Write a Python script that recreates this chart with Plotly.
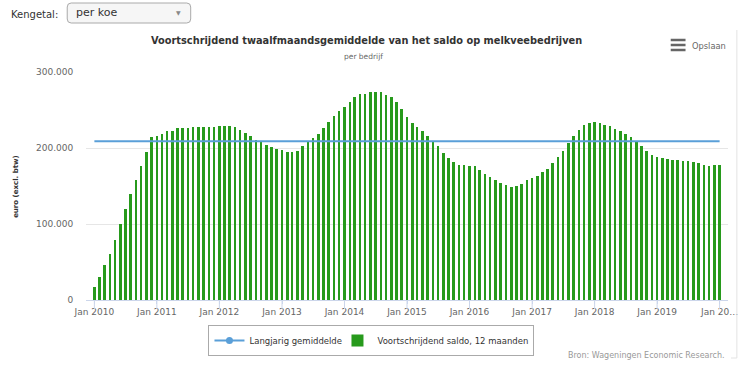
import plotly.graph_objects as go
import pandas as pd

# ---------------- data ----------------
MONTHS = pd.date_range("2010-01-01", periods=121, freq="MS")
SALDO_K = [
    16.7, 30.7, 45.7, 60.6, 79.0, 100.0, 120.0, 140.0, 158.0, 176.0, 194.6, 213.9,
    216.0, 218.7, 221.8, 223.0, 226.2, 226.2, 226.2, 227.0, 227.0, 227.0, 227.0, 227.0,
    228.4, 229.2, 228.4, 227.0, 223.5, 219.6, 215.2, 210.4, 207.7, 203.8, 200.7, 198.5,
    197.2, 195.4, 195.4, 196.3, 202.0, 208.2, 213.0, 218.7, 226.2, 234.0, 241.5, 248.6,
    253.8, 260.9, 267.5, 271.4, 271.4, 273.6, 273.6, 273.6, 270.1, 267.5, 260.9, 250.8,
    240.9, 232.8, 227.0, 221.8, 216.0, 208.6, 202.0, 193.2, 186.6, 181.4, 177.9, 177.9,
    176.5, 175.7, 171.3, 166.4, 161.2, 158.1, 153.3, 151.1, 148.9, 150.2, 152.4, 158.1,
    159.9, 163.4, 167.8, 172.6, 180.1, 188.0, 196.3, 206.9, 215.2, 224.0, 229.7, 232.8,
    234.1, 232.8, 230.6, 228.4, 224.9, 221.8, 218.7, 213.9, 208.6, 202.9, 196.3, 190.6,
    188.0, 186.6, 185.3, 184.0, 184.0, 183.1, 182.3, 181.4, 180.1, 177.4, 176.5, 177.4,
    177.4,
]
SALDO = [v * 1000 for v in SALDO_K]
LONG_TERM_AVG = 209000
TICK_DATES = [f"{y}-01-01" for y in range(2010, 2021)]
TICK_LABELS = ["Jan 2010", "Jan 2011", "Jan 2012", "Jan 2013", "Jan 2014", "Jan 2015",
               "Jan 2016", "Jan 2017", "Jan 2018", "Jan 2019", "Jan 20…"]
Y_TICKS = [0, 100000, 200000, 300000]
Y_LABELS = ["0", "100.000", "200.000", "300.000"]

FONT = "DejaVu Sans"
W, H = 750, 371
L, R, T, B = 86, 736, 72, 300


def px(x):
    return (x - L) / (R - L)


def py(y):
    return (B - y) / (B - T)


fig = go.Figure()

fig.add_trace(go.Bar(
    x=MONTHS, y=SALDO, name="Voortschrijdend saldo, 12 maanden",
    marker=dict(color="#279a1c", line=dict(width=0)),
    width=15 * 24 * 3600 * 1000,
))
fig.add_trace(go.Scatter(
    x=[MONTHS[0], MONTHS[-1]], y=[LONG_TERM_AVG, LONG_TERM_AVG],
    mode="lines", line=dict(color="#5a9fd8", width=2),
    showlegend=False, hoverinfo="skip",
))
fig.add_trace(go.Scatter(
    x=[None], y=[None], mode="lines+markers", name="Langjarig gemiddelde",
    line=dict(color="#5a9fd8", width=2), marker=dict(size=7, color="#5a9fd8"),
    legendwidth=83,
))

# ---------- decorations (dropdown, title, menu, source) ----------
def rrect(x0, y0, x1, y1, r):
    pts = (f"M {px(x0 + r)} {py(y0)} L {px(x1 - r)} {py(y0)} Q {px(x1)} {py(y0)} {px(x1)} {py(y0 + r)} "
           f"L {px(x1)} {py(y1 - r)} Q {px(x1)} {py(y1)} {px(x1 - r)} {py(y1)} "
           f"L {px(x0 + r)} {py(y1)} Q {px(x0)} {py(y1)} {px(x0)} {py(y1 - r)} "
           f"L {px(x0)} {py(y0 + r)} Q {px(x0)} {py(y0)} {px(x0 + r)} {py(y0)} Z")
    return pts


shapes = [
    dict(type="path", xref="paper", yref="paper", path=rrect(67, 3, 192, 23, 4),
         fillcolor="#f6f6f6", line=dict(color="#aaaaaa", width=1), layer="above"),
    dict(type="line", xref="paper", yref="paper", x0=px(745), x1=px(745), y0=py(30), y1=py(358),
         line=dict(color="#e3e3e3", width=1)),
    dict(type="line", xref="paper", yref="paper", x0=px(739), x1=px(745), y0=py(358), y1=py(358),
         line=dict(color="#e3e3e3", width=1)),
]
for yy in (40, 45, 50):
    shapes.append(dict(type="line", xref="paper", yref="paper", x0=px(678), x1=px(693),
                       y0=py(yy), y1=py(yy), line=dict(color="#666666", width=2.5)))
# long x-axis tick marks, one per tick value
for td in TICK_DATES:
    shapes.append(dict(type="line", xref="x", yref="paper", x0=td, x1=td,
                       y0=0, y1=py(309), line=dict(color="#ccd6eb", width=1)))

annotations = [
    dict(text="Kengetal:", x=px(8), y=py(14), xanchor="left", yanchor="middle",
         font=dict(family=FONT, size=10, color="#333333")),
    dict(text="per koe", x=px(74), y=py(13), xanchor="left", yanchor="middle",
         font=dict(family=FONT, size=11, color="#333333")),
    dict(text="▼", x=px(180), y=py(13), xanchor="center", yanchor="middle",
         font=dict(family=FONT, size=6, color="#888888")),
    dict(text="<b>Voortschrijdend twaalfmaandsgemiddelde van het saldo op melkveebedrijven</b>",
         x=px(370), y=py(40), xanchor="center", yanchor="middle",
         font=dict(family=FONT, size=9.8, color="#333333")),
    dict(text="per bedrijf", x=px(367), y=py(57), xanchor="center", yanchor="middle",
         font=dict(family=FONT, size=7.5, color="#666666")),
    dict(text="Opslaan", x=px(698), y=py(45.5), xanchor="left", yanchor="middle",
         font=dict(family=FONT, size=8.3, color="#666666")),
    dict(text="<b>euro (excl. btw)</b>", x=px(15), y=0.5, xanchor="center", yanchor="middle",
         textangle=-90, font=dict(family=FONT, size=7, color="#333333")),
    dict(text="Bron: Wageningen Economic Research.", x=px(735), y=py(355), xanchor="right",
         yanchor="middle", font=dict(family=FONT, size=8, color="#999999")),
]
for a in annotations:
    a.update(xref="paper", yref="paper", showarrow=False)

fig.update_layout(
    width=W, height=H,
    margin=dict(l=L, r=W - R, t=T, b=H - B),
    paper_bgcolor="white", plot_bgcolor="white",
    font=dict(family=FONT, color="#666666"),
    bargap=0,
    showlegend=True,
    legend=dict(orientation="h", x=px(210), xanchor="left", y=py(325), yanchor="top",
                bordercolor="#aaaaaa", borderwidth=1, bgcolor="white",
                font=dict(family=FONT, size=8.5, color="#333333"),
                traceorder="reversed"),
    xaxis=dict(type="date", range=["2009-11-13", "2020-02-19"],
               tickvals=TICK_DATES, ticktext=TICK_LABELS,
               ticks="outside", ticklen=3, tickcolor="#ccd6eb",
               showline=True, linecolor="#ccd6eb", linewidth=1,
               showgrid=False, zeroline=False,
               tickfont=dict(family=FONT, size=9, color="#666666")),
    yaxis=dict(range=[0, 300000], tickvals=Y_TICKS, ticktext=Y_LABELS,
               showgrid=True, gridcolor="#e6e6e6", zeroline=False,
               ticks="outside", ticklen=10, tickcolor="rgba(0,0,0,0)",
               tickfont=dict(family=FONT, size=9, color="#666666")),
    shapes=shapes,
    annotations=annotations,
)

fig.write_html("out.html", config={"displayModeBar": False},
               post_script="document.body.style.margin='0';document.body.style.padding='0';")
